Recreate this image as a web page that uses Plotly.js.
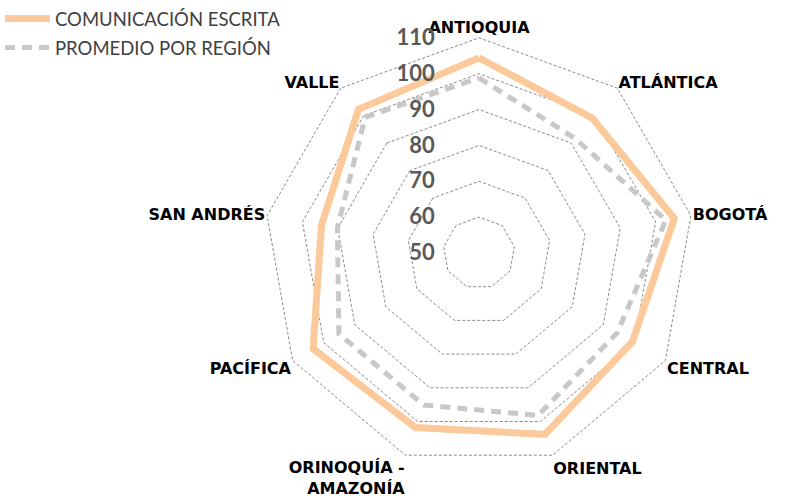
<!DOCTYPE html>
<html>
<head>
<meta charset="utf-8">
<script src="https://cdn.plot.ly/plotly-3.0.1.min.js"></script>
<style>html,body{margin:0;padding:0;background:#fff;}#chart{width:787px;height:496px;}</style>
</head>
<body>
<div id="chart"></div>
<script>
const categories = ["ANTIOQUIA", "ATLÁNTICA", "BOGOTÁ", "CENTRAL", "ORIENTAL", "ORINOQUÍA -<br>AMAZONÍA", "PACÍFICA", "SAN ANDRÉS", "VALLE"];
const comunicacionEscrita = [104.4, 99.1, 105.3, 99.4, 103.8, 101.8, 103.4, 94.6, 102.3];
const promedioRegion = [98.8, 91.7, 102.9, 94.5, 98.2, 95.1, 95.1, 90.1, 99.4];
const radialTicks = [50, 60, 70, 80, 90, 100, 110];

const closeLoop = a => a.concat([a[0]]);

const traces = [
  {
    type: 'scatterpolar',
    name: 'COMUNICACIÓN ESCRITA',
    legendgroup: 'a',
    theta: closeLoop(categories),
    r: closeLoop(comunicacionEscrita),
    mode: 'lines',
    line: {color: '#FBC99A', width: 7},
    hoverinfo: 'skip'
  },
  {
    type: 'scatterpolar',
    name: 'PROMEDIO POR REGIÓN',
    legendgroup: 'b',
    theta: closeLoop(categories),
    r: closeLoop(promedioRegion),
    mode: 'lines',
    line: {color: '#C8C8C8', width: 5, dash: '10px,7px'},
    hoverinfo: 'skip'
  }
];

const layout = {
  width: 787,
  height: 496,
  margin: {l: 0, r: 0, t: 0, b: 0},
  paper_bgcolor: '#ffffff',
  plot_bgcolor: '#ffffff',
  showlegend: true,
  legend: {
    x: 0, y: 1.005, xanchor: 'left', yanchor: 'top',
    font: {family: 'Lato, sans-serif', size: 18.5, color: '#404040'},
    tracegroupgap: 2,
    itemwidth: 45
  },
  polar: {
    domain: {x: [0.3323, 0.8850], y: [0.0534, 0.9304]},
    gridshape: 'linear',
    bgcolor: 'rgba(0,0,0,0)',
    radialaxis: {
      range: [50, 110.4],
      tickvals: radialTicks,
      ticktext: radialTicks.map(String),
      angle: 90,
      side: 'counterclockwise',
      tickangle: 90,
      showline: false,
      ticks: 'outside',
      ticklen: 36,
      tickcolor: 'rgba(0,0,0,0)',
      gridcolor: '#8a8a8a',
      gridwidth: 1,
      griddash: '3px,2px',
      tickfont: {family: 'Lato, sans-serif', size: 22, color: '#595959', weight: 'bold'}
    },
    angularaxis: {
      direction: 'clockwise',
      rotation: 90,
      showgrid: false,
      showline: false,
      ticks: '',
      tickfont: {family: 'DejaVu Sans, sans-serif', size: 16, color: '#000000', weight: 'bold'}
    }
  }
};

Plotly.newPlot('chart', traces, layout, {displayModeBar: false, staticPlot: true});
</script>
</body>
</html>
